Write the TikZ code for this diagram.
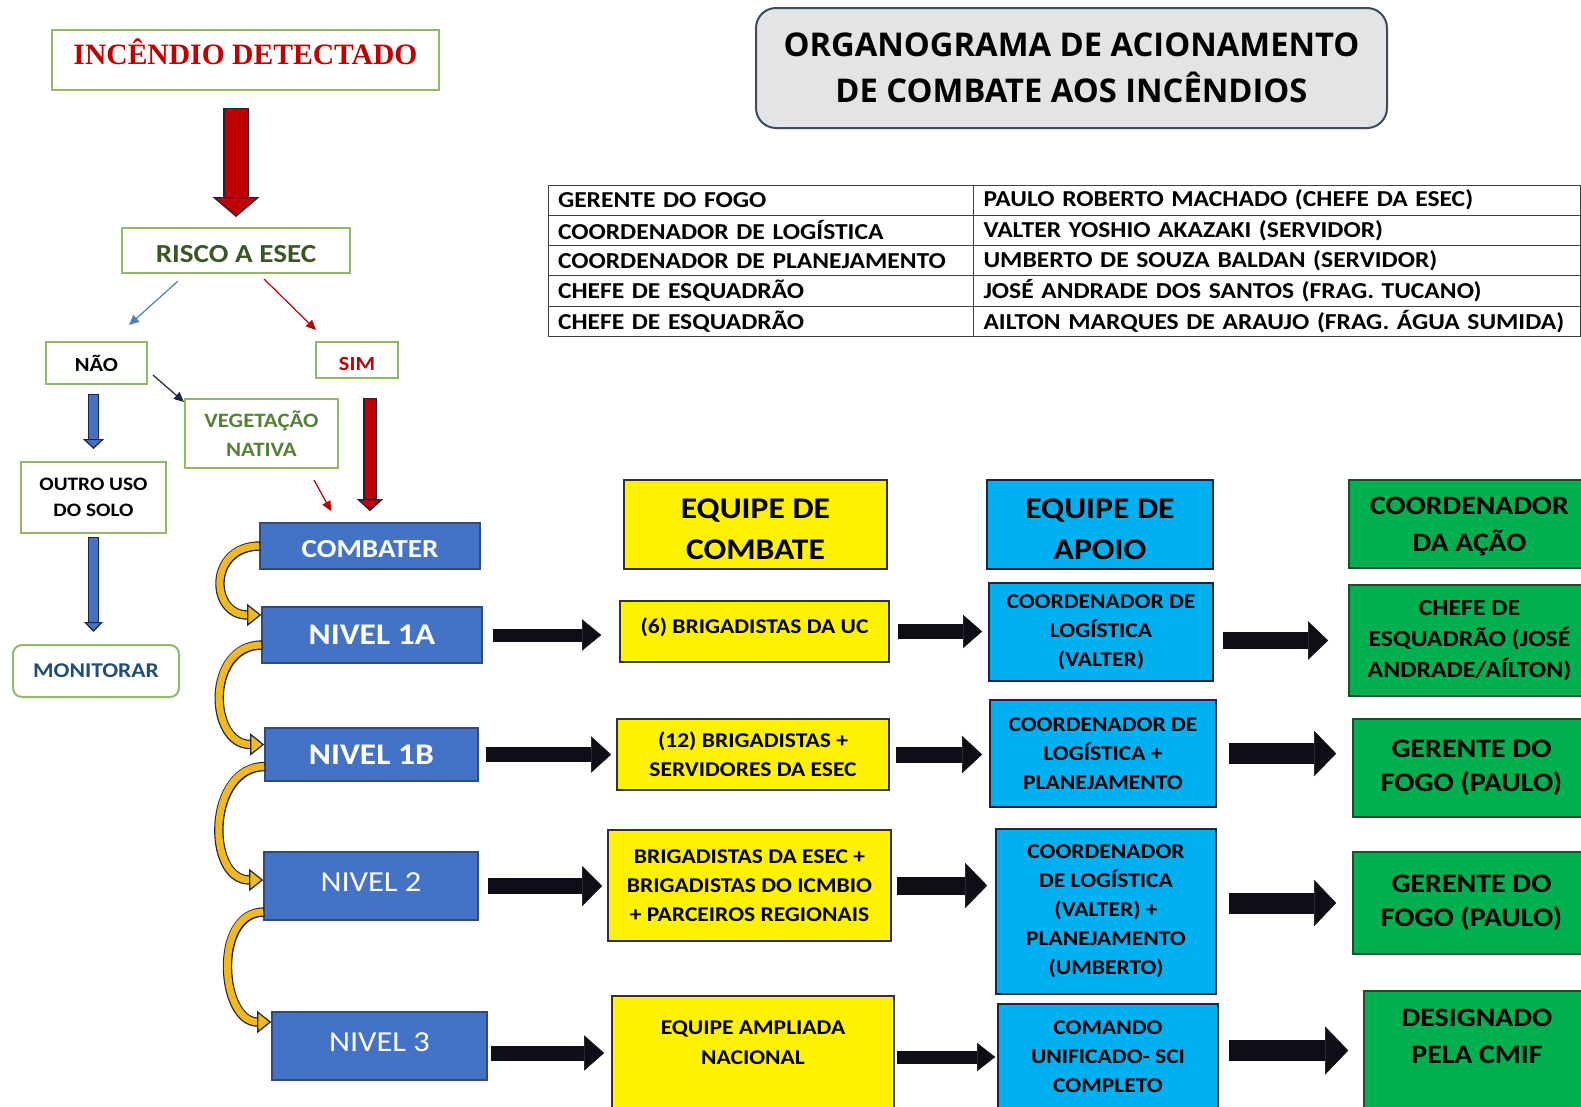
\documentclass[tikz,border=0pt]{standalone}
\usepackage{fontspec}
\setmainfont{Carlito}[FakeStretch=1.12]
\newfontfamily\titlefont{Open Sans}
\newfontfamily\firefont{Liberation Serif}
\usetikzlibrary{arrows.meta,positioning}

\definecolor{firered}{HTML}{C00000}
\definecolor{riskgreen}{HTML}{385723}
\definecolor{vegetgreen}{HTML}{548235}
\definecolor{boxline}{HTML}{93B866}
\definecolor{monitorblue}{HTML}{1F4E79}
\definecolor{levelblue}{HTML}{4472C4}
\definecolor{levelline}{HTML}{2F4B7C}
\definecolor{arrowline}{HTML}{1C2541}
\definecolor{arrowblack}{HTML}{0E0E16}
\definecolor{suppcyan}{HTML}{00B0F0}
\definecolor{leadgreen}{HTML}{00B050}
\definecolor{leadline}{HTML}{1F4D2E}
\definecolor{gold}{HTML}{F2B81C}
\definecolor{titlegray}{HTML}{E4E4E6}
\definecolor{titleline}{HTML}{3E4C63}
\definecolor{thinblue}{HTML}{4F81BD}

\newcommand\fsz[2]{\fontsize{#1}{#2}\selectfont}

\tikzset{
  choicebox/.style={draw=boxline, line width=2pt, fill=white, align=center, inner sep=0pt},
  levelbox/.style={fill=levelblue, draw=levelline, line width=1.6pt, text=white, inner sep=0pt, font=\bfseries\fsz{30}{36}},
  teambox/.style={fill=yellow, draw=black!80, line width=1.6pt, align=center, inner sep=0pt, font=\bfseries\fsz{21}{29}},
  supportbox/.style={fill=suppcyan, draw=arrowline, line width=1.6pt, align=center, inner sep=0pt, font=\bfseries\fsz{21}{29}},
  leadbox/.style={fill=leadgreen, draw=leadline, line width=1.6pt, align=center, inner sep=0pt, font=\bfseries\fsz{26.7}{34.3}},
  toplabel/.style={anchor=north, inner sep=0pt, align=center},
  tablecell/.style={draw=black!75, line width=1pt, anchor=north west, minimum height=30.3pt, inner xsep=10pt, inner ysep=0pt, align=left, font=\bfseries\fsz{22.8}{27}},
  blockarrow/.style n args={3}{line width=#1, draw=arrowblack, -{Triangle[length=#3, width=#2, line width=0.5pt]}},
  fatarrow/.style n args={6}{line width=#2, draw=#1, shorten <=#5, shorten >=#6,
    -{Triangle[length=#4, width=#3, line width=1.2pt, color=arrowline, fill=#1]},
    preaction={draw=arrowline, line width=#2+2.4pt, -, shorten <=#5-1.2pt, shorten >=#4+#6}},
  thinarrow/.style={line width=1.2pt, -{Triangle[length=10pt, width=9pt]}}
}

\begin{document}
\begin{tikzpicture}[x=1pt, y=-1pt]
  \clip (0,0) rectangle (1581,1106);
  \fill[white] (0,0) rectangle (1581,1106);

  % decision column
  \node[choicebox, text=firered, font=\firefont\bfseries\fsz{29.6}{36}, text height=20pt, text depth=10.4pt, minimum width=387pt, minimum height=60pt] (fire) at (245.5,60) {INCÊNDIO DETECTADO};
  \node[choicebox, text=riskgreen, font=\bfseries\fsz{26}{32}, text height=23.4pt, text depth=0pt, minimum width=228pt, minimum height=45pt] (risk) at (236,250.5) {RISCO A ESEC};
  \node[choicebox, font=\bfseries\fsz{20}{24}, minimum width=101pt, minimum height=42pt] (no) at (96.5,363) {NÃO};
  \node[choicebox, text=firered, font=\bfseries\fsz{20}{24}, text height=20.6pt, text depth=0pt, minimum width=82pt, minimum height=36pt] (yes) at (357,360) {SIM};
  \node[choicebox, text=vegetgreen, font=\bfseries\fsz{20.4}{29}, minimum width=153pt, minimum height=69pt] (veg) at (261.5,433.5) {VEGETAÇÃO\\NATIVA};
  \node[choicebox, font=\bfseries\fsz{19}{26}, minimum width=145pt, minimum height=71pt] (other) at (93.5,497.5) {OUTRO USO\\DO SOLO};
  \node[choicebox, rounded corners=9pt, text=monitorblue, font=\bfseries\fsz{21}{25}, minimum width=166pt, minimum height=52pt] (monitor) at (96,671) {MONITORAR};

  \draw[fatarrow={firered}{23pt}{47pt}{20pt}{18pt}{10pt}] (risk.north |- fire.south) -- (risk.north);
  \draw[thinarrow, thinblue] ([shift={(57,7)}]risk.south west) -- ([shift={(32.5,-16)}]no.north);
  \draw[thinarrow, firered] ([shift={(-87,5)}]risk.south east) -- ([shift={(1,-11)}]yes.north west);
  \draw[thinarrow, arrowline] ([shift={(5,12)}]no.east) -- ([shift={(0,4)}]veg.north west);
  \draw[fatarrow={levelblue}{9pt}{21pt}{10pt}{10pt}{12pt}] (other.north |- no.south) -- (other.north);
  \draw[fatarrow={levelblue}{9pt}{19pt}{10pt}{4pt}{12pt}] (other.south) -- (other.south |- monitor.north);

  % levels
  \node[levelbox, font=\bfseries\fsz{26}{31}, text height=23.4pt, text depth=0pt, minimum width=220pt, minimum height=46pt] (combat) at (370,546) {COMBATER};
  \node[levelbox, minimum width=220pt, minimum height=56pt] (n1a) at (372,635) {NIVEL 1A};
  \node[levelbox, minimum width=213pt, minimum height=53pt] (n1b) at (371.5,754.5) {NIVEL 1B};
  \node[levelbox, font=\fsz{29}{35}, text depth=8pt, minimum width=214pt, minimum height=68pt] (n2) at (371,886) {NIVEL 2};
  \node[levelbox, font=\fsz{29}{35}, text depth=8pt, minimum width=215pt, minimum height=68pt] (n3) at (379.5,1046) {NIVEL 3};

  \draw[thinarrow, firered] ([shift={(-25,11)}]veg.south east) -- ([shift={(72,-11)}]combat.north west);
  \draw[fatarrow={firered}{11pt}{26pt}{12pt}{20pt}{11pt}] (combat.north |- yes.south) -- (combat.north);

  \draw[fatarrow={gold}{7pt}{22pt}{14pt}{0pt}{0pt}] (combat.west) to[out=180, in=180, looseness=1.9] ([yshift=20pt]n1a.west);
  \draw[fatarrow={gold}{7pt}{22pt}{14pt}{0pt}{0pt}] ([yshift=-10pt]n1a.west) to[out=180, in=180, looseness=1.43] ([yshift=10pt]n1b.west);
  \draw[fatarrow={gold}{7pt}{22pt}{14pt}{0pt}{0pt}] ([yshift=-12pt]n1b.west) to[out=180, in=180, looseness=1.29] ([yshift=6pt]n2.west);
  \draw[fatarrow={gold}{7pt}{22pt}{14pt}{0pt}{0pt}] ([yshift=-26pt]n2.west) to[out=180, in=180, looseness=1.18] ([yshift=24pt]n3.west);

  % title and table
  \node[draw=titleline, line width=2pt, fill=titlegray, rounded corners=20pt, align=center, font=\titlefont\bfseries\fsz{32.7}{46.4}, minimum width=631pt, minimum height=120pt] (title) at (1071.5,68) {ORGANOGRAMA DE ACIONAMENTO\\DE COMBATE AOS INCÊNDIOS};

  \foreach \role/\person [count=\i] in {GERENTE DO FOGO/PAULO ROBERTO MACHADO (CHEFE DA ESEC),
      COORDENADOR DE LOGÍSTICA/VALTER YOSHIO AKAZAKI (SERVIDOR),
      COORDENADOR DE PLANEJAMENTO/UMBERTO DE SOUZA BALDAN (SERVIDOR),
      CHEFE DE ESQUADRÃO/JOSÉ ANDRADE DOS SANTOS (FRAG. TUCANO),
      CHEFE DE ESQUADRÃO/AILTON MARQUES DE ARAUJO (FRAG. ÁGUA SUMIDA)}
  {
    \node[tablecell, text width=405.5pt] (role\i) at (547.5,{184.5+30.3*(\i-1)}) {\role};
    \node[tablecell, text width=587pt] (person\i) at (973,{184.5+30.3*(\i-1)}) {\person};
  }

  % column heads
  \node[teambox, minimum width=263pt, minimum height=89pt, label={[toplabel, font=\bfseries\fsz{30}{41.3}, yshift=-19.5pt]north:{EQUIPE DE\\COMBATE}}] (hteam) at (755.5,524.5) {};
  \node[supportbox, minimum width=226pt, minimum height=89pt, label={[toplabel, font=\bfseries\fsz{30}{41.3}, yshift=-19.5pt]north:{EQUIPE DE\\APOIO}}] (hsupport) at (1100,524.5) {};
  \node[leadbox, minimum width=241pt, minimum height=88pt, label={[toplabel, font=\bfseries\fsz{26.5}{37.3}, yshift=-17.6pt]north:{COORDENADOR\\DA AÇÃO}}] (hlead) at (1469.5,524) {};

  % level 1A
  \node[teambox, minimum width=269pt, minimum height=61pt, label={[toplabel, font=\bfseries\fsz{21}{29}, yshift=-18pt]north:{(6) BRIGADISTAS DA UC}}] (t1a) at (754.5,631.5) {};
  \node[supportbox, minimum width=224pt, minimum height=98pt] (s1a) at (1101,632) {COORDENADOR DE\\LOGÍSTICA\\(VALTER)};
  \node[leadbox, font=\bfseries\fsz{23}{31.3}, minimum width=241pt, minimum height=111pt] (l1a) at (1469.5,640.5) {CHEFE DE\\ESQUADRÃO (JOSÉ\\ANDRADE/AÍLTON)};
  % level 1B
  \node[teambox, minimum width=272pt, minimum height=71pt] (t1b) at (753,754.5) {(12) BRIGADISTAS +\\SERVIDORES DA ESEC};
  \node[supportbox, minimum width=226pt, minimum height=107pt] (s1b) at (1103,753.5) {COORDENADOR DE\\LOGÍSTICA +\\PLANEJAMENTO};
  \node[leadbox, minimum width=237pt, minimum height=98pt] (l1b) at (1471.5,768) {GERENTE DO\\FOGO (PAULO)};
  % level 2
  \node[teambox, minimum width=283pt, minimum height=111pt] (t2) at (749.5,885.5) {BRIGADISTAS DA ESEC +\\BRIGADISTAS DO ICMBIO\\+ PARCEIROS REGIONAIS};
  \node[supportbox, minimum width=220pt, minimum height=165pt] (s2) at (1106,911.5) {COORDENADOR\\DE LOGÍSTICA\\(VALTER) +\\PLANEJAMENTO\\(UMBERTO)};
  \node[leadbox, minimum width=237pt, minimum height=102pt] (l2) at (1471.5,903) {GERENTE DO\\FOGO (PAULO)};
  % level 3
  \node[teambox, minimum width=282pt, minimum height=114pt, label={[toplabel, font=\bfseries\fsz{21}{30}, yshift=-25pt]north:{EQUIPE AMPLIADA\\NACIONAL}}] (t3) at (753,1053) {};
  \node[supportbox, minimum width=220pt, minimum height=106pt] (s3) at (1108,1057) {COMANDO\\UNIFICADO- SCI\\COMPLETO};
  \node[leadbox, minimum width=226pt, minimum height=119pt, label={[toplabel, font=\bfseries\fsz{26.6}{37}, yshift=-18.5pt]north:{DESIGNADO\\PELA CMIF}}] (l3) at (1477,1050.5) {};

  % black arrows
  \draw[blockarrow={13pt}{31pt}{19pt}, shorten <=10pt, shorten >=18pt] (n1a.east) -- (n1a.east -| t1a.west);
  \draw[blockarrow={15pt}{33pt}{19pt}, shorten <=8pt, shorten >=6pt] (t1a.east) -- (t1a.east -| s1a.west);
  \draw[blockarrow={17pt}{38pt}{20pt}, shorten <=9pt, shorten >=20pt] (s1a.east |- l1a.west) -- (l1a.west);

  \draw[blockarrow={15pt}{36pt}{20pt}, shorten <=7pt, shorten >=5pt] (n1b.east) -- (n1b.east -| t1b.west);
  \draw[blockarrow={16pt}{37pt}{20pt}, shorten <=6pt, shorten >=7pt] (t1b.east) -- (t1b.east -| s1b.west);
  \draw[blockarrow={21pt}{45pt}{22pt}, shorten <=12pt, shorten >=16pt] (s1b.east) -- (s1b.east -| l1b.west);

  \draw[blockarrow={16pt}{40pt}{20pt}, shorten <=9pt, shorten >=5pt] (n2.east) -- (n2.east -| t2.west);
  \draw[blockarrow={18pt}{45pt}{22pt}, shorten <=5pt, shorten >=8pt] (t2.east) -- (t2.east -| s2.west);
  \draw[blockarrow={21pt}{46pt}{22pt}, shorten <=12pt, shorten >=16pt] (s2.east |- l2.west) -- (l2.west);

  \draw[blockarrow={15pt}{35pt}{20pt}, shorten <=3pt, shorten >=7pt] (n3.east |- t3.west) -- (t3.west);
  \draw[blockarrow={13pt}{28pt}{18pt}, shorten <=2pt, shorten >=2pt] (t3.east |- s3.west) -- (s3.west);
  \draw[blockarrow={21pt}{48pt}{23pt}, shorten <=10pt, shorten >=15pt] (s3.east |- l3.west) -- (l3.west);
\end{tikzpicture}
\end{document}
